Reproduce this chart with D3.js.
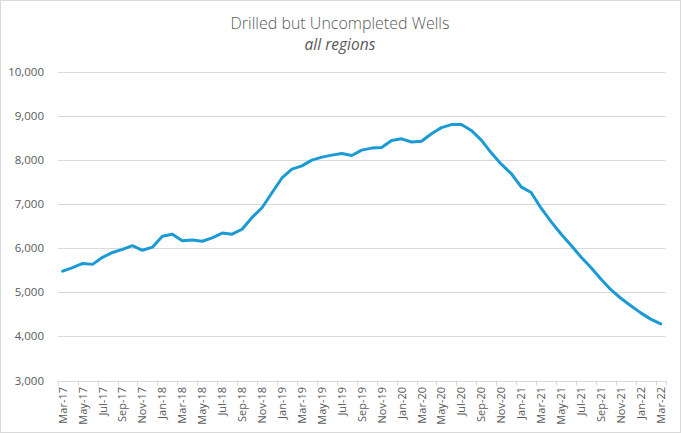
<!DOCTYPE html>
<html>
<head>
<meta charset="utf-8">
<script src="https://cdn.jsdelivr.net/npm/d3@7.9.0/dist/d3.min.js"></script>
<style>
  html, body { margin: 0; padding: 0; background: #fff; }
  svg { display: block; }
</style>
</head>
<body>
<svg id="chart" width="681" height="433"></svg>
<script>
// Month categories (Mar-17 .. Mar-22)
const months = [
  "Mar-17","Apr-17","May-17","Jun-17","Jul-17","Aug-17","Sep-17","Oct-17","Nov-17","Dec-17",
  "Jan-18","Feb-18","Mar-18","Apr-18","May-18","Jun-18","Jul-18","Aug-18","Sep-18","Oct-18","Nov-18","Dec-18",
  "Jan-19","Feb-19","Mar-19","Apr-19","May-19","Jun-19","Jul-19","Aug-19","Sep-19","Oct-19","Nov-19","Dec-19",
  "Jan-20","Feb-20","Mar-20","Apr-20","May-20","Jun-20","Jul-20","Aug-20","Sep-20","Oct-20","Nov-20","Dec-20",
  "Jan-21","Feb-21","Mar-21","Apr-21","May-21","Jun-21","Jul-21","Aug-21","Sep-21","Oct-21","Nov-21","Dec-21",
  "Jan-22","Feb-22","Mar-22"
];

// DUC wells, all regions
const ducWells = [
  5480, 5560, 5655, 5635, 5795, 5905, 5975, 6060, 5955, 6025,
  6275, 6318, 6170, 6190, 6160, 6235, 6345, 6320, 6432, 6700, 6920, 7260,
  7595, 7795, 7870, 8000, 8068, 8114, 8152, 8106, 8227, 8273, 8288, 8447,
  8484, 8412, 8428, 8598, 8738, 8806, 8810, 8674, 8455, 8166, 7909, 7697,
  7394, 7265, 6910, 6605, 6325, 6068, 5803, 5564, 5302, 5060, 4866, 4697,
  4534, 4393, 4283
];

const yTicks = [3000, 4000, 5000, 6000, 7000, 8000, 9000, 10000];

const titleText = "Drilled but Uncompleted Wells";
const subtitleText = "all regions";

const svg = d3.select("#chart");
const font = "'Open Sans', 'Noto Sans', sans-serif";
const textColor = "#595959";
const gridColor = "#d9d9d9";

// Chart border
svg.append("rect")
  .attr("x", 0.5).attr("y", 0.5)
  .attr("width", 680).attr("height", 432)
  .attr("fill", "none")
  .attr("stroke", gridColor);

const x = d3.scaleBand().domain(months).range([57.7, 665.7]);
const y = d3.scaleLinear().domain([3000, 10000]).range([380.5, 72]);

// Gridlines
svg.append("g")
  .selectAll("line")
  .data(yTicks)
  .join("line")
  .attr("x1", x.range()[0])
  .attr("x2", x.range()[1])
  .attr("y1", d => Math.round(y(d)) + 0.5)
  .attr("y2", d => Math.round(y(d)) + 0.5)
  .attr("stroke", gridColor)
  .attr("stroke-width", 1);

// Y labels
svg.append("g")
  .selectAll("text")
  .data(yTicks)
  .join("text")
  .attr("x", 44)
  .attr("y", d => y(d))
  .attr("dy", "0.35em")
  .attr("text-anchor", "end")
  .attr("font-family", font)
  .attr("font-size", 11.5)
  .attr("fill", textColor)
  .text(d => d3.format(",")(d));

// X tick marks (every 2 categories, at category boundaries)
const tickIdx = d3.range(0, months.length, 2).concat([months.length]);
svg.append("g")
  .selectAll("line")
  .data(tickIdx)
  .join("line")
  .attr("x1", i => Math.round(x.range()[0] + i * x.step()) + 0.5)
  .attr("x2", i => Math.round(x.range()[0] + i * x.step()) + 0.5)
  .attr("y1", y(3000))
  .attr("y2", y(3000) + 5)
  .attr("stroke", gridColor);

// X labels, rotated
svg.append("g")
  .selectAll("text")
  .data(months.filter((m, i) => i % 2 === 0))
  .join("text")
  .attr("transform", d => `translate(${x(d) + x.bandwidth() / 2 + 4},387) rotate(-90)`)
  .attr("text-anchor", "end")
  .attr("font-family", font)
  .attr("font-size", 11)
  .attr("fill", textColor)
  .text(d => d);

// Line
const line = d3.line()
  .x((d, i) => x(months[i]) + x.bandwidth() / 2)
  .y(d => y(d))
  .curve(d3.curveLinear);

svg.append("path")
  .datum(ducWells)
  .attr("d", line)
  .attr("fill", "none")
  .attr("stroke", "#1b9ad6")
  .attr("stroke-width", 3)
  .attr("stroke-linejoin", "round")
  .attr("stroke-linecap", "round");

// Titles
svg.append("text")
  .attr("x", 340)
  .attr("y", 29)
  .attr("text-anchor", "middle")
  .attr("font-family", font)
  .attr("font-weight", 300)
  .attr("font-size", 16)
  .attr("fill", textColor)
  .text(titleText);

svg.append("text")
  .attr("x", 340)
  .attr("y", 49.5)
  .attr("text-anchor", "middle")
  .attr("font-family", font)
  .attr("font-style", "italic")
  .attr("font-size", 15.5)
  .attr("fill", textColor)
  .text(subtitleText);
</script>
</body>
</html>
